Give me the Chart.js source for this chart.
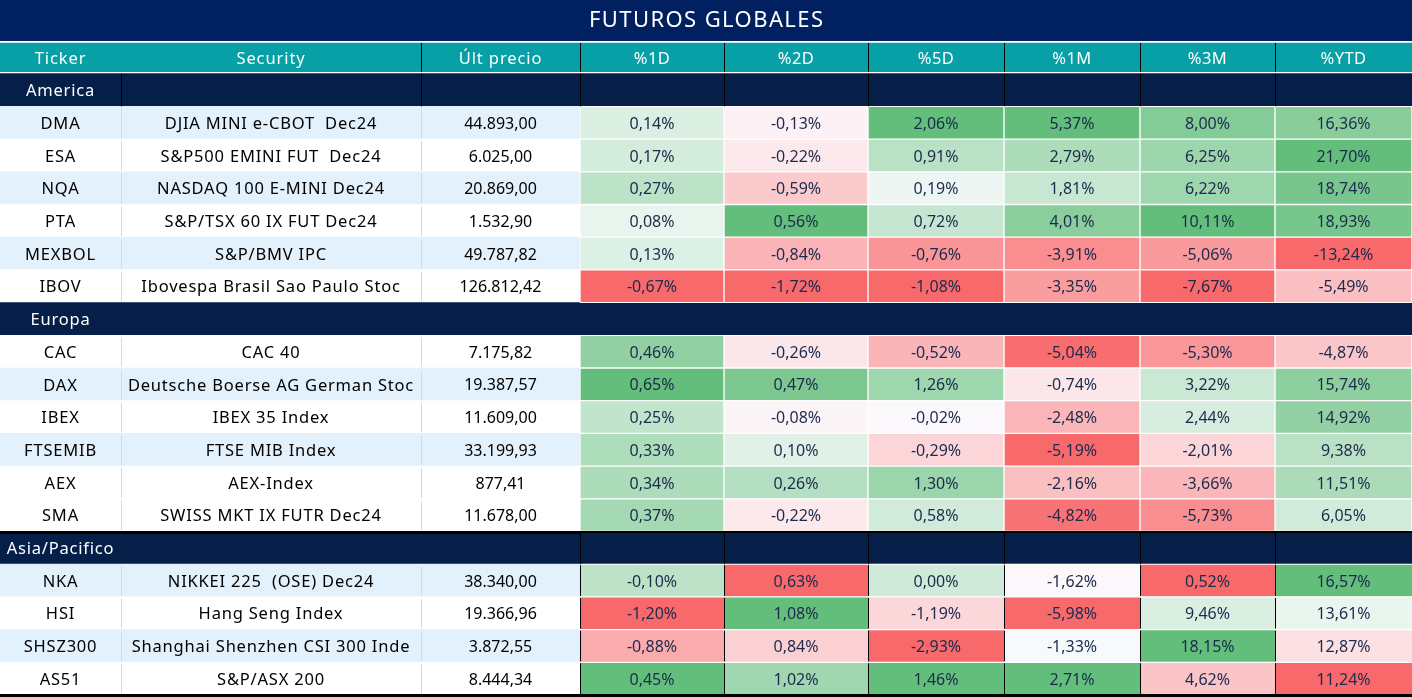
<!DOCTYPE html>
<html lang="es">
<head>
<meta charset="UTF-8">
<title>Futuros Globales</title>
<script src="https://cdn.jsdelivr.net/npm/chart.js"></script>
<style>
  html, body { margin: 0; padding: 0; background: #ffffff; }
  canvas { display: block; }
</style>
</head>
<body>
<canvas id="tabla" width="1412" height="697"></canvas>
<script>
// ---- datos ----
const headers = ['Ticker', 'Security', 'Últ precio', '%1D', '%2D', '%5D', '%1M', '%3M', '%YTD'];
const regions = ['America', 'Europa', 'Asia/Pacifico'];
const regionCount = [6, 6, 4];

const tickers = ['DMA', 'ESA', 'NQA', 'PTA', 'MEXBOL', 'IBOV',
  'CAC', 'DAX', 'IBEX', 'FTSEMIB', 'AEX', 'SMA',
  'NKA', 'HSI', 'SHSZ300', 'AS51'];
const securities = ['DJIA MINI e-CBOT  Dec24', 'S&P500 EMINI FUT  Dec24', 'NASDAQ 100 E-MINI Dec24',
  'S&P/TSX 60 IX FUT Dec24', 'S&P/BMV IPC', 'Ibovespa Brasil Sao Paulo Stoc',
  'CAC 40', 'Deutsche Boerse AG German Stoc', 'IBEX 35 Index', 'FTSE MIB Index', 'AEX-Index',
  'SWISS MKT IX FUTR Dec24',
  'NIKKEI 225  (OSE) Dec24', 'Hang Seng Index', 'Shanghai Shenzhen CSI 300 Inde', 'S&P/ASX 200'];
const lastPrice = [44893.00, 6025.00, 20869.00, 1532.90, 49787.82, 126812.42,
  7175.82, 19387.57, 11609.00, 33199.93, 877.41, 11678.00,
  38340.00, 19366.96, 3872.55, 8444.34];

const pct1D = [0.14, 0.17, 0.27, 0.08, 0.13, -0.67, 0.46, 0.65, 0.25, 0.33, 0.34, 0.37, -0.10, -1.20, -0.88, 0.45];
const pct2D = [-0.13, -0.22, -0.59, 0.56, -0.84, -1.72, -0.26, 0.47, -0.08, 0.10, 0.26, -0.22, 0.63, 1.08, 0.84, 1.02];
const pct5D = [2.06, 0.91, 0.19, 0.72, -0.76, -1.08, -0.52, 1.26, -0.02, -0.29, 1.30, 0.58, 0.00, -1.19, -2.93, 1.46];
const pct1M = [5.37, 2.79, 1.81, 4.01, -3.91, -3.35, -5.04, -0.74, -2.48, -5.19, -2.16, -4.82, -1.62, -5.98, -1.33, 2.71];
const pct3M = [8.00, 6.25, 6.22, 10.11, -5.06, -7.67, -5.30, 3.22, 2.44, -2.01, -3.66, -5.73, 0.52, 9.46, 18.15, 4.62];
const pctYTD = [16.36, 21.70, 18.74, 18.93, -13.24, -5.49, -4.87, 15.74, 14.92, 9.38, 11.51, 6.05, 16.57, 13.61, 12.87, 11.24];
const pctCols = [pct1D, pct2D, pct5D, pct1M, pct3M, pctYTD];

// ---- estilo / layout ----
const colEdges = [0, 121, 421, 580, 724, 868, 1004, 1140, 1275, 1412];
const shaded = ['DMA', 'NQA', 'MEXBOL', 'DAX', 'FTSEMIB', 'NKA', 'SHSZ300'];
const NAVY_TITLE = '#00205f';
const NAVY = '#061f49';
const TEAL = '#07a0a6';
const SHADE = '#e3f1fc';
const FONT = '"Noto Sans", sans-serif';
const TEXT_DY = 1.5;

// filas de la tabla: cabecera, secciones y datos
const rows = [{ type: 'header', label: 'header' }];
let k = 0;
regions.forEach((name, g) => {
  rows.push({ type: 'section', label: name, group: g });
  for (let j = 0; j < regionCount[g]; j++, k++) {
    rows.push({ type: 'data', label: tickers[k], i: k, group: g });
  }
});

// escala de color tipo Excel (rojo - blanco - verde)
const RED = [248, 105, 107], MID = [252, 252, 255], GREEN = [99, 190, 123];
function mix(a, b, t) { return a.map((v, n) => Math.round(v + (b[n] - v) * t)); }
function median(arr) {
  const s = arr.slice().sort((a, b) => a - b);
  const m = Math.floor(s.length / 2);
  return s.length % 2 ? s[m] : (s[m - 1] + s[m]) / 2;
}
function heatColor(col, i) {
  const asia = i >= regionCount[0] + regionCount[1];
  const vals = col.filter((v, n) => (n >= regionCount[0] + regionCount[1]) === asia);
  const lo = Math.min(...vals), hi = Math.max(...vals);
  const mid = asia ? median(vals) : 0;
  const v = col[i];
  let c;
  if (v >= mid) c = hi === mid ? MID : mix(MID, GREEN, (v - mid) / (hi - mid));
  else c = lo === mid ? MID : mix(MID, RED, (mid - v) / (mid - lo));
  return 'rgb(' + c.join(',') + ')';
}

function fmtPct(v) { return v.toFixed(2).replace('.', ',') + '%'; }
function fmtPrice(v) {
  const parts = v.toFixed(2).split('.');
  return parts[0].replace(/\B(?=(\d{3})+(?!\d))/g, '.') + ',' + parts[1];
}

// fondo de filas
const bgDataset = {
  label: 'fondo',
  data: rows.map(() => [colEdges[0], colEdges[colEdges.length - 1]]),
  backgroundColor: rows.map(r => r.type === 'header' ? TEAL : r.type === 'section' ? NAVY
    : (shaded.includes(r.label) ? SHADE : '#ffffff')),
  borderColor: '#ffffff',
  borderWidth: rows.map(r => r.type === 'header' ? { top: 2, bottom: 2, left: 0, right: 0 } : 0),
  borderSkipped: false,
  order: 2
};

// celdas del mapa de calor
const heatDatasets = pctCols.map((col, c) => ({
  label: headers[3 + c],
  data: rows.map(r => r.type === 'data' ? [colEdges[3 + c], colEdges[4 + c]] : null),
  backgroundColor: rows.map(r => r.type === 'data' ? heatColor(col, r.i) : 'transparent'),
  borderColor: '#ffffff',
  borderWidth: rows.map(r => r.group === 2 ? { top: 1, bottom: 1, left: 0, right: 0 } : 1),
  borderSkipped: false,
  order: 1
}));

function setText(ctx, size, spacing) {
  ctx.font = size + 'px ' + FONT;
  ctx.letterSpacing = spacing + 'px';
}

const tablePlugin = {
  id: 'tablePlugin',
  beforeDraw(chart) {
    const ctx = chart.ctx;
    ctx.save();
    ctx.fillStyle = NAVY_TITLE;
    ctx.fillRect(0, 0, chart.width, chart.chartArea.top);
    ctx.fillStyle = '#ffffff';
    ctx.textAlign = 'center';
    ctx.textBaseline = 'middle';
    setText(ctx, 22, 1.4);
    ctx.fillText('FUTUROS GLOBALES', chart.width / 2 + 0.7, 21);
    ctx.restore();
  },
  afterDatasetsDraw(chart) {
    const ctx = chart.ctx;
    const xs = chart.scales.x, ys = chart.scales.y;
    const half = (ys.getPixelForValue(1) - ys.getPixelForValue(0)) / 2;
    const xAt = e => xs.getPixelForValue(colEdges[e]);
    const cx = c => xs.getPixelForValue((colEdges[c] + colEdges[c + 1]) / 2);
    ctx.save();

    rows.forEach((r, ri) => {
      const y = ys.getPixelForValue(ri);
      const top = y - half, bot = y + half;
      // separadores verticales
      let edges = [];
      if (r.type === 'header') edges = [2, 3, 4, 5, 6, 7, 8];
      else if (r.type === 'section' && r.group === 0) edges = [1, 2, 3, 4, 5, 6, 7, 8];
      else if (r.type === 'section' && r.group === 2) edges = [3, 4, 5, 6, 7, 8];
      ctx.lineWidth = 1;
      ctx.strokeStyle = '#000000';
      edges.forEach(e => {
        const x = Math.round(xAt(e)) + 0.5;
        ctx.beginPath();
        ctx.moveTo(x, top + (r.type === 'header' ? 2 : 0));
        ctx.lineTo(x, bot - (r.type === 'header' ? 2 : 0));
        ctx.stroke();
      });
      if (r.type === 'data') {
        ctx.strokeStyle = '#d9d9d9';
        [1, 2].forEach(e => {
          const x = Math.round(xAt(e)) + 0.5;
          ctx.beginPath(); ctx.moveTo(x, top + 2); ctx.lineTo(x, bot - 1); ctx.stroke();
        });
        if (r.group === 2) {
          ctx.strokeStyle = '#000000';
          [3, 4, 5, 6, 7, 8].forEach(e => {
            const x = Math.round(xAt(e)) + 0.5;
            ctx.beginPath(); ctx.moveTo(x, top + 1); ctx.lineTo(x, bot - 1); ctx.stroke();
          });
        }
      }

      // textos
      const ty = y + TEXT_DY;
      ctx.textAlign = 'center';
      ctx.textBaseline = 'middle';
      if (r.type === 'header') {
        ctx.fillStyle = '#ffffff';
        headers.forEach((h, c) => {
          setText(ctx, 16.5, c < 3 ? 0.9 : 0.4);
          ctx.fillText(h, cx(c), ty);
        });
      } else if (r.type === 'section') {
        ctx.fillStyle = '#ffffff';
        setText(ctx, 16.5, 0.8);
        ctx.fillText(r.label, cx(0), ty);
      } else {
        ctx.fillStyle = '#000000';
        setText(ctx, 16.5, 0.8);
        ctx.fillText(tickers[r.i], cx(0), ty);
        ctx.fillText(securities[r.i], cx(1), ty);
        setText(ctx, 16, 0);
        ctx.fillText(fmtPrice(lastPrice[r.i]), cx(2), ty);
        ctx.fillStyle = '#1c2a4c';
        pctCols.forEach((col, c) => ctx.fillText(fmtPct(col[r.i]), cx(3 + c), ty));
      }
    });

    // lineas gruesas: sobre Asia/Pacifico y al final
    ctx.fillStyle = '#000000';
    const asiaIdx = rows.findIndex(r => r.type === 'section' && r.group === 2);
    const yAsia = ys.getPixelForValue(asiaIdx) - half;
    ctx.fillRect(0, Math.round(yAsia) - 1, xAt(3), 3);
    ctx.fillRect(xAt(3), Math.round(yAsia) - 1, chart.width - xAt(3), 2);
    ctx.fillRect(0, Math.round(chart.chartArea.bottom) - 1, chart.width, 3);
    ctx.restore();
  }
};

new Chart(document.getElementById('tabla'), {
  type: 'bar',
  data: {
    labels: rows.map(r => r.label),
    datasets: [...heatDatasets, bgDataset]
  },
  options: {
    indexAxis: 'y',
    responsive: false,
    animation: false,
    devicePixelRatio: 1,
    grouped: false,
    barPercentage: 1,
    categoryPercentage: 1,
    layout: { padding: { top: 0, bottom: 2, left: 0, right: 0 } },
    scales: {
      x: { type: 'linear', min: colEdges[0], max: colEdges[colEdges.length - 1], display: false },
      y: { type: 'category', display: false, offset: true }
    },
    plugins: {
      legend: { display: false },
      tooltip: { enabled: false },
      title: {
        display: true,
        text: '',
        font: { family: FONT, size: 22, lineHeight: 1.2 },
        padding: { top: 7, bottom: 7.6 }
      }
    }
  },
  plugins: [tablePlugin]
});
</script>
</body>
</html>
